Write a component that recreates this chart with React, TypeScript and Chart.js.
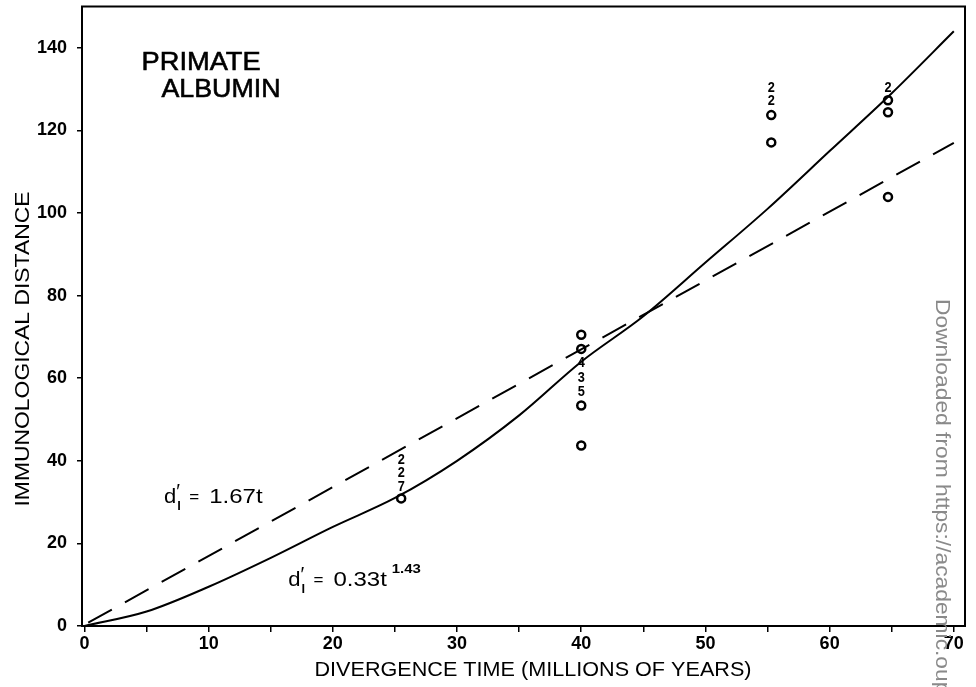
import { useEffect, useRef } from 'react';
import { Chart, registerables } from 'chart.js';

Chart.register(...registerables);

// ---- data ----
const xTickValues = [0, 5, 10, 15, 20, 25, 30, 35, 40, 45, 50, 55, 60, 65, 70];
const yTickValues = [0, 20, 40, 60, 80, 100, 120, 140];

// solid curve  d' = 0.33 t^1.43
const powerFitT = [0, 5, 10, 15, 20, 25, 30, 35, 40, 45, 50, 55, 60, 65, 70];
const powerFitD = [0, 3.5, 9.5, 16.5, 24, 31, 40, 51, 64, 75, 88, 101, 115, 129, 144];

// dashed line  d' = 1.67 t
const linearFitT = [0.3, 70];
const linearFitD = [0.8, 117];

// open circles (observations)
const obsT = [25.5, 40, 40, 40, 40, 55.3, 55.3, 64.7, 64.7, 64.7];
const obsD = [30.9, 70.5, 67.1, 53.4, 43.7, 123.7, 117.1, 127.3, 124.4, 103.9];

// stacked count digits
const countT = [25.5, 25.5, 25.5, 40, 40, 40, 55.3, 55.3, 64.7];
const countD = [40.3, 37.0, 33.8, 63.8, 60.1, 56.8, 130.4, 127.1, 130.4];
const countLabel = ['2', '2', '7', '4', '3', '5', '2', '2', '2'];

// text annotations
const titleLines = ['PRIMATE', 'ALBUMIN'];
const titleT = [4.6, 6.2];
const titleD = [134.6, 128.2];

const eqRest = ['1.67t', '0.33t'];
const eqSup = ['', '1.43'];
const eqT = [6.4, 16.4];
const eqD = [29.7, 9.7];

const xTitle = 'DIVERGENCE TIME (MILLIONS OF YEARS)';
const yTitle = 'IMMUNOLOGICAL DISTANCE';
const watermark = 'Downloaded from https://academic.oup.com';

const FONT = '"Liberation Sans", Arial, sans-serif';

function fitText(ctx: CanvasRenderingContext2D, s: string, x: number, y: number, sx: number) {
  ctx.save();
  ctx.translate(x, y);
  ctx.scale(sx, 1);
  ctx.fillText(s, 0, 0);
  ctx.restore();
}

const overlay = {
  id: 'overlay',
  afterDatasetsDraw(chart: any) {
    const { ctx, chartArea: a, scales } = chart;
    const x = scales.x;
    const y = scales.y;
    ctx.save();
    // frame
    ctx.strokeStyle = '#000';
    ctx.lineWidth = 2;
    ctx.strokeRect(a.left, a.top, a.right - a.left, a.bottom - a.top);

    // stacked digits
    ctx.fillStyle = '#000';
    ctx.font = `bold 15px ${FONT}`;
    ctx.textAlign = 'center';
    ctx.textBaseline = 'middle';
    countLabel.forEach((s, i) => {
      const px = x.getPixelForValue(countT[i]);
      const py = y.getPixelForValue(countD[i]);
      ctx.save();
      ctx.translate(px, py);
      ctx.scale(0.85, 1);
      ctx.fillText(s, 0, 0);
      ctx.restore();
    });

    // PRIMATE / ALBUMIN
    ctx.textAlign = 'left';
    ctx.textBaseline = 'alphabetic';
    ctx.font = `26px ${FONT}`;
    titleLines.forEach((s, i) => {
      const px = x.getPixelForValue(titleT[i]);
      const py = y.getPixelForValue(titleD[i]);
      const w = ctx.measureText(s).width;
      ctx.save();
      ctx.lineWidth = 0.6;
      ctx.strokeStyle = '#000';
      ctx.translate(px, py);
      ctx.scale(119 / w, 1);
      ctx.fillText(s, 0, 0);
      ctx.strokeText(s, 0, 0);
      ctx.restore();
    });

    // equations
    eqRest.forEach((s, i) => {
      const px = x.getPixelForValue(eqT[i]);
      const py = y.getPixelForValue(eqD[i]);
      ctx.font = `21px ${FONT}`;
      fitText(ctx, 'd', px, py, 1.05);
      const dw = ctx.measureText('d').width * 1.05;
      ctx.font = `bold 13px ${FONT}`;
      ctx.fillText('l', px + dw + 1, py + 7);
      ctx.font = `20px ${FONT}`;
      ctx.fillText('\u2032', px + dw, py - 5);
      ctx.font = `17px ${FONT}`;
      ctx.fillText('=', px + dw + 13, py - 1);
      ctx.font = `20px ${FONT}`;
      const sx = 1.2;
      fitText(ctx, s, px + dw + 33, py, sx);
      const rw = ctx.measureText(s).width * sx;
      if (eqSup[i]) {
        ctx.font = `bold 13px ${FONT}`;
        fitText(ctx, eqSup[i], px + dw + 33 + rw + 5, py - 13, 1.15);
      }
    });

    // axis titles
    ctx.font = `20px ${FONT}`;
    ctx.textAlign = 'center';
    ctx.textBaseline = 'alphabetic';
    {
      const w = ctx.measureText(xTitle).width;
      fitText(ctx, xTitle, 533, 676, 437 / w);
    }
    ctx.font = `21px ${FONT}`;
    {
      const w = ctx.measureText(yTitle).width;
      ctx.save();
      ctx.translate(29, 349);
      ctx.rotate(-Math.PI / 2);
      ctx.scale(315 / w, 1);
      ctx.fillText(yTitle, 0, 0);
      ctx.restore();
    }

    // watermark
    ctx.save();
    ctx.translate(936, 299);
    ctx.rotate(Math.PI / 2);
    ctx.scale(1.14, 1);
    ctx.fillStyle = '#8a8a8a';
    ctx.font = `20px ${FONT}`;
    ctx.textAlign = 'left';
    ctx.textBaseline = 'alphabetic';
    ctx.fillText(watermark, 0, 0);
    ctx.restore();

    ctx.restore();
  },
};

export default function App() {
  const ref = useRef<HTMLCanvasElement>(null);

  useEffect(() => {
    if (!ref.current) return;
    const chart = new Chart(ref.current, {
      type: 'scatter',
      data: {
        datasets: [
          {
            type: 'line',
            data: powerFitT.map((t, i) => ({ x: t, y: powerFitD[i] })),
            borderColor: '#000',
            borderWidth: 2,
            pointRadius: 0,
            cubicInterpolationMode: 'monotone',
            fill: false,
          } as any,
          {
            type: 'line',
            data: linearFitT.map((t, i) => ({ x: t, y: linearFitD[i] })),
            borderColor: '#000',
            borderWidth: 2,
            borderDash: [27, 15],
            pointRadius: 0,
            fill: false,
          } as any,
          {
            type: 'scatter',
            data: obsT.map((t, i) => ({ x: t, y: obsD[i] })),
            pointStyle: 'circle',
            pointRadius: 4,
            borderWidth: 2.5,
            borderColor: '#000',
            backgroundColor: '#fff',
          } as any,
        ],
      },
      options: {
        animation: false,
        responsive: false,
        devicePixelRatio: 1,
        layout: { padding: { top: 5, right: 11, left: 0, bottom: 0 } },
        plugins: { legend: { display: false }, tooltip: { enabled: false } },
        scales: {
          x: {
            type: 'linear',
            min: -0.2,
            max: 70.9,
            afterBuildTicks: (axis: any) => {
              axis.ticks = xTickValues.map((v) => ({ value: v }));
            },
            afterFit: (axis: any) => {
              axis.height = 61;
              axis.paddingLeft = 0;
              axis.paddingRight = 0;
            },
            ticks: {
              color: '#000',
              font: { family: FONT, size: 18, weight: 'bold' },
              padding: 1,
              maxRotation: 0,
              autoSkip: false,
              callback: (v: any) => (Number(v) % 10 === 0 ? String(v) : ''),
            },
            grid: {
              drawOnChartArea: false,
              drawTicks: true,
              tickLength: 6,
              color: '#000',
              lineWidth: 1.5,
            },
            border: { display: true, color: '#000', width: 2 },
            title: { display: false },
          },
          y: {
            type: 'linear',
            min: 0,
            max: 150,
            afterBuildTicks: (axis: any) => {
              axis.ticks = yTickValues.map((v) => ({ value: v }));
            },
            afterFit: (axis: any) => {
              axis.width = 82;
              axis.paddingTop = 0;
              axis.paddingBottom = 0;
            },
            ticks: {
              color: '#000',
              font: { family: FONT, size: 18, weight: 'bold' },
              padding: 10,
              autoSkip: false,
            },
            grid: {
              drawOnChartArea: false,
              drawTicks: true,
              tickLength: 5,
              color: '#000',
              lineWidth: 1.5,
            },
            border: { display: true, color: '#000', width: 2 },
            title: { display: false },
          },
        },
      },
      plugins: [overlay],
    });
    return () => chart.destroy();
  }, []);

  return (
    <div style={{ position: 'fixed', left: 0, top: 0, width: 976, height: 687, background: '#fff' }}>
      <canvas ref={ref} width={976} height={687} />
    </div>
  );
}
